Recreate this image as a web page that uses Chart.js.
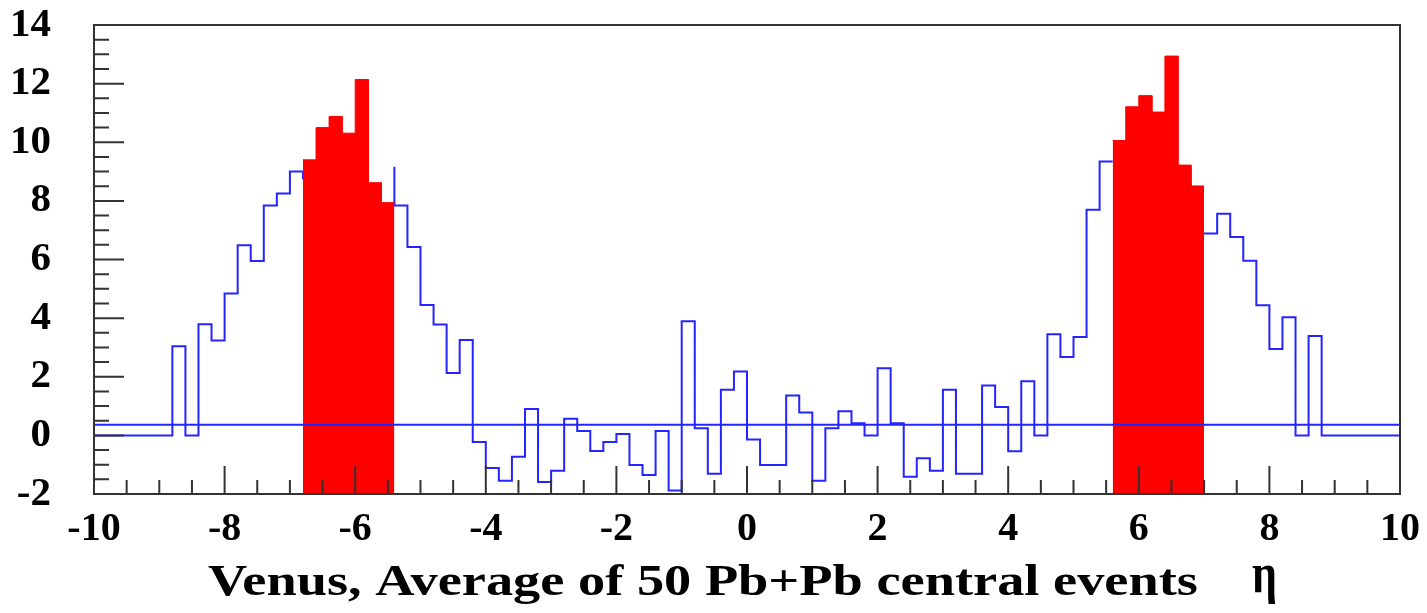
<!DOCTYPE html>
<html>
<head>
<meta charset="utf-8">
<script src="https://cdn.jsdelivr.net/npm/chart.js@4/dist/chart.umd.min.js"></script>
<style>
html, body { margin: 0; padding: 0; background: #ffffff; }
#c { display: block; }
</style>
</head>
<body>
<canvas id="c" width="1427" height="613"></canvas>
<script>
// ---- histogram definition ----
const etaMin = -10;
const etaMax = 10;
const binWidth = 0.2;
const yMin = -2;
const yMax = 14;

// tick labels
const xTickLabels = [-10, -8, -6, -4, -2, 0, 2, 4, 6, 8, 10];
const yTickLabels = [-2, 0, 2, 4, 6, 8, 10, 12, 14];

// Venus histogram (blue), one value per 0.2-wide eta bin from -10 to 10
const venusCounts = [
  0, 0, 0, 0, 0, 0, 3.04, 0, 3.79, 3.24,
  4.84, 6.49, 5.95, 7.84, 8.25, 9.00, 8.74, 10.50, 10.88, 10.31,
  12.14, 8.62, 9.16, 7.84, 6.43, 4.45, 3.78, 2.13, 3.25, -0.23,
  -1.11, -1.55, -0.73, 0.90, -1.59, -1.21, 0.57, 0.15, -0.53, -0.23,
  0.05, -1.01, -1.35, 0.15, -1.88, 3.89, 0.24, -1.31, 1.56, 2.18,
  -0.14, -1.01, -1.01, 1.36, 0.78, -1.55, 0.24, 0.82, 0.41, 0.00,
  2.29, 0.41, -1.41, -0.78, -1.21, 1.56, -1.31, -1.31, 1.70, 0.97,
  -0.54, 1.85, 0.00, 3.45, 2.67, 3.36, 7.70, 9.34, 9.34, 11.21,
  11.59, 11.03, 12.94, 9.22, 6.89, 6.89, 7.56, 6.77, 5.96, 4.44,
  2.95, 4.03, 0, 3.39, 0, 0, 0, 0, 0, 0
];

// highlighted (red, filled) bins; null where not highlighted
const highlightCounts = [
  null, null, null, null, null, null, null, null, null, null,
  null, null, null, null, null, null, 9.40, 10.50, 10.88, 10.31,
  12.14, 8.62, 7.94, null, null, null, null, null, null, null,
  null, null, null, null, null, null, null, null, null, null,
  null, null, null, null, null, null, null, null, null, null,
  null, null, null, null, null, null, null, null, null, null,
  null, null, null, null, null, null, null, null, null, null,
  null, null, null, null, null, null, null, null, 10.06, 11.21,
  11.59, 11.03, 12.94, 9.22, 8.51, null, null, null, null, null,
  null, null, null, null, null, null, null, null, null, null
];

// horizontal reference level
const fitLevel = 0.36;

const xTitle = 'Venus, Average of 50 Pb+Pb central events';
const xUnit = 'η';

// ---- build datasets from the arrays ----
function binLow(i) { return etaMin + i * binWidth; }

function buildBluePoints() {
  const pts = [];
  const n = venusCounts.length;
  for (let i = 0; i < n; i++) {
    const x0 = binLow(i), x1 = binLow(i + 1), v = venusCounts[i];
    const red = highlightCounts[i] !== null;
    if (red) {
      const prevRed = i > 0 && highlightCounts[i - 1] !== null;
      const nextRed = i + 1 < n && highlightCounts[i + 1] !== null;
      if (!prevRed) { pts.push({ x: x0, y: v }); pts.push({ x: x0, y: null }); }
      if (!nextRed) { pts.push({ x: x1, y: v }); }
    } else {
      pts.push({ x: x0, y: v });
      pts.push({ x: x1, y: v });
    }
  }
  return pts;
}

function buildRedRuns() {
  const runs = [];
  let cur = null;
  for (let i = 0; i < highlightCounts.length; i++) {
    const v = highlightCounts[i];
    if (v === null) { if (cur) { runs.push(cur); cur = null; } continue; }
    if (!cur) cur = [];
    cur.push({ x: binLow(i), y: v });
    cur.push({ x: binLow(i + 1), y: v });
  }
  if (cur) runs.push(cur);
  return runs;
}

const BLUE = '#2424ff';
const RED = '#ff0000';

const datasets = [];
datasets.push({
  label: 'level',
  data: [{ x: etaMin, y: fitLevel }, { x: etaMax, y: fitLevel }],
  borderColor: BLUE, borderWidth: 2, pointRadius: 0, fill: false, order: 0
});
buildRedRuns().forEach((run, k) => {
  datasets.push({
    label: 'highlight' + k,
    data: run,
    borderColor: RED, borderWidth: 1, backgroundColor: RED,
    pointRadius: 0, fill: { value: yMin }, order: 1
  });
});
datasets.push({
  label: 'venus',
  data: buildBluePoints(),
  borderColor: BLUE, borderWidth: 2, pointRadius: 0, fill: false,
  spanGaps: false, order: 2
});

const serif = '"Liberation Serif", "DejaVu Serif", serif';

const framePlugin = {
  id: 'frameTicks',
  afterDatasetsDraw(chart) {
    const { ctx, chartArea: a, scales: { x, y } } = chart;
    ctx.save();
    ctx.strokeStyle = '#333333';
    ctx.lineWidth = 2;
    ctx.beginPath();
    for (let k = 0; k <= (etaMax - etaMin) / 0.5; k++) {
      const v = etaMin + k * 0.5;
      const px = x.getPixelForValue(v);
      const major = Math.abs(v / 2 - Math.round(v / 2)) < 1e-6;
      ctx.moveTo(px, a.bottom);
      ctx.lineTo(px, a.bottom - (major ? 28 : 14));
    }
    for (let k = 0; k <= (yMax - yMin) / 0.5; k++) {
      const v = yMin + k * 0.5;
      const py = y.getPixelForValue(v);
      const major = Math.abs(v / 2 - Math.round(v / 2)) < 1e-6;
      ctx.moveTo(a.left, py);
      ctx.lineTo(a.left + (major ? 30 : 15), py);
    }
    ctx.stroke();
    ctx.strokeRect(a.left, a.top, a.right - a.left, a.bottom - a.top);
    ctx.restore();
  },
  afterDraw(chart) {
    const ctx = chart.ctx;
    ctx.save();
    ctx.fillStyle = '#000000';
    ctx.textAlign = 'left';
    ctx.textBaseline = 'alphabetic';
    ctx.font = 'bold 45px ' + serif;
    const w = ctx.measureText(xTitle).width;
    ctx.translate(208, 595);
    ctx.scale(990 / w, 1);
    ctx.fillText(xTitle, 0, 0);
    ctx.restore();
    ctx.save();
    ctx.fillStyle = '#000000';
    ctx.textAlign = 'left';
    ctx.textBaseline = 'alphabetic';
    ctx.font = 'bold 58px ' + serif;
    const we = ctx.measureText(xUnit).width;
    ctx.translate(1252, 592);
    ctx.scale(25 / we, 1);
    ctx.fillText(xUnit, 0, 0);
    ctx.restore();
  }
};

new Chart(document.getElementById('c'), {
  type: 'line',
  data: { datasets },
  plugins: [framePlugin],
  options: {
    responsive: false,
    animation: false,
    events: [],
    layout: { padding: { top: 25, right: 27, left: 0, bottom: 0 } },
    plugins: { legend: { display: false }, tooltip: { enabled: false } },
    elements: { point: { radius: 0 }, line: { tension: 0 } },
    scales: {
      x: {
        type: 'linear', min: etaMin, max: etaMax,
        afterBuildTicks: s => { s.ticks = xTickLabels.map(v => ({ value: v })); },
        ticks: {
          font: { family: serif, size: 40, weight: 'bold' }, color: '#000000',
          padding: 4, maxRotation: 0, autoSkip: false
        },
        grid: { display: false }, border: { display: false },
        afterFit: s => { s.height = 119; s.paddingLeft = 0; s.paddingRight = 0; }
      },
      y: {
        type: 'linear', min: yMin, max: yMax,
        afterBuildTicks: s => { s.ticks = yTickLabels.map(v => ({ value: v })); },
        ticks: {
          font: { family: serif, size: 41, weight: 'bold' }, color: '#000000',
          padding: 35, autoSkip: false
        },
        grid: { display: false }, border: { display: false },
        afterFit: s => { s.width = 94; s.paddingTop = 0; s.paddingBottom = 0; }
      }
    }
  }
});
</script>
</body>
</html>
